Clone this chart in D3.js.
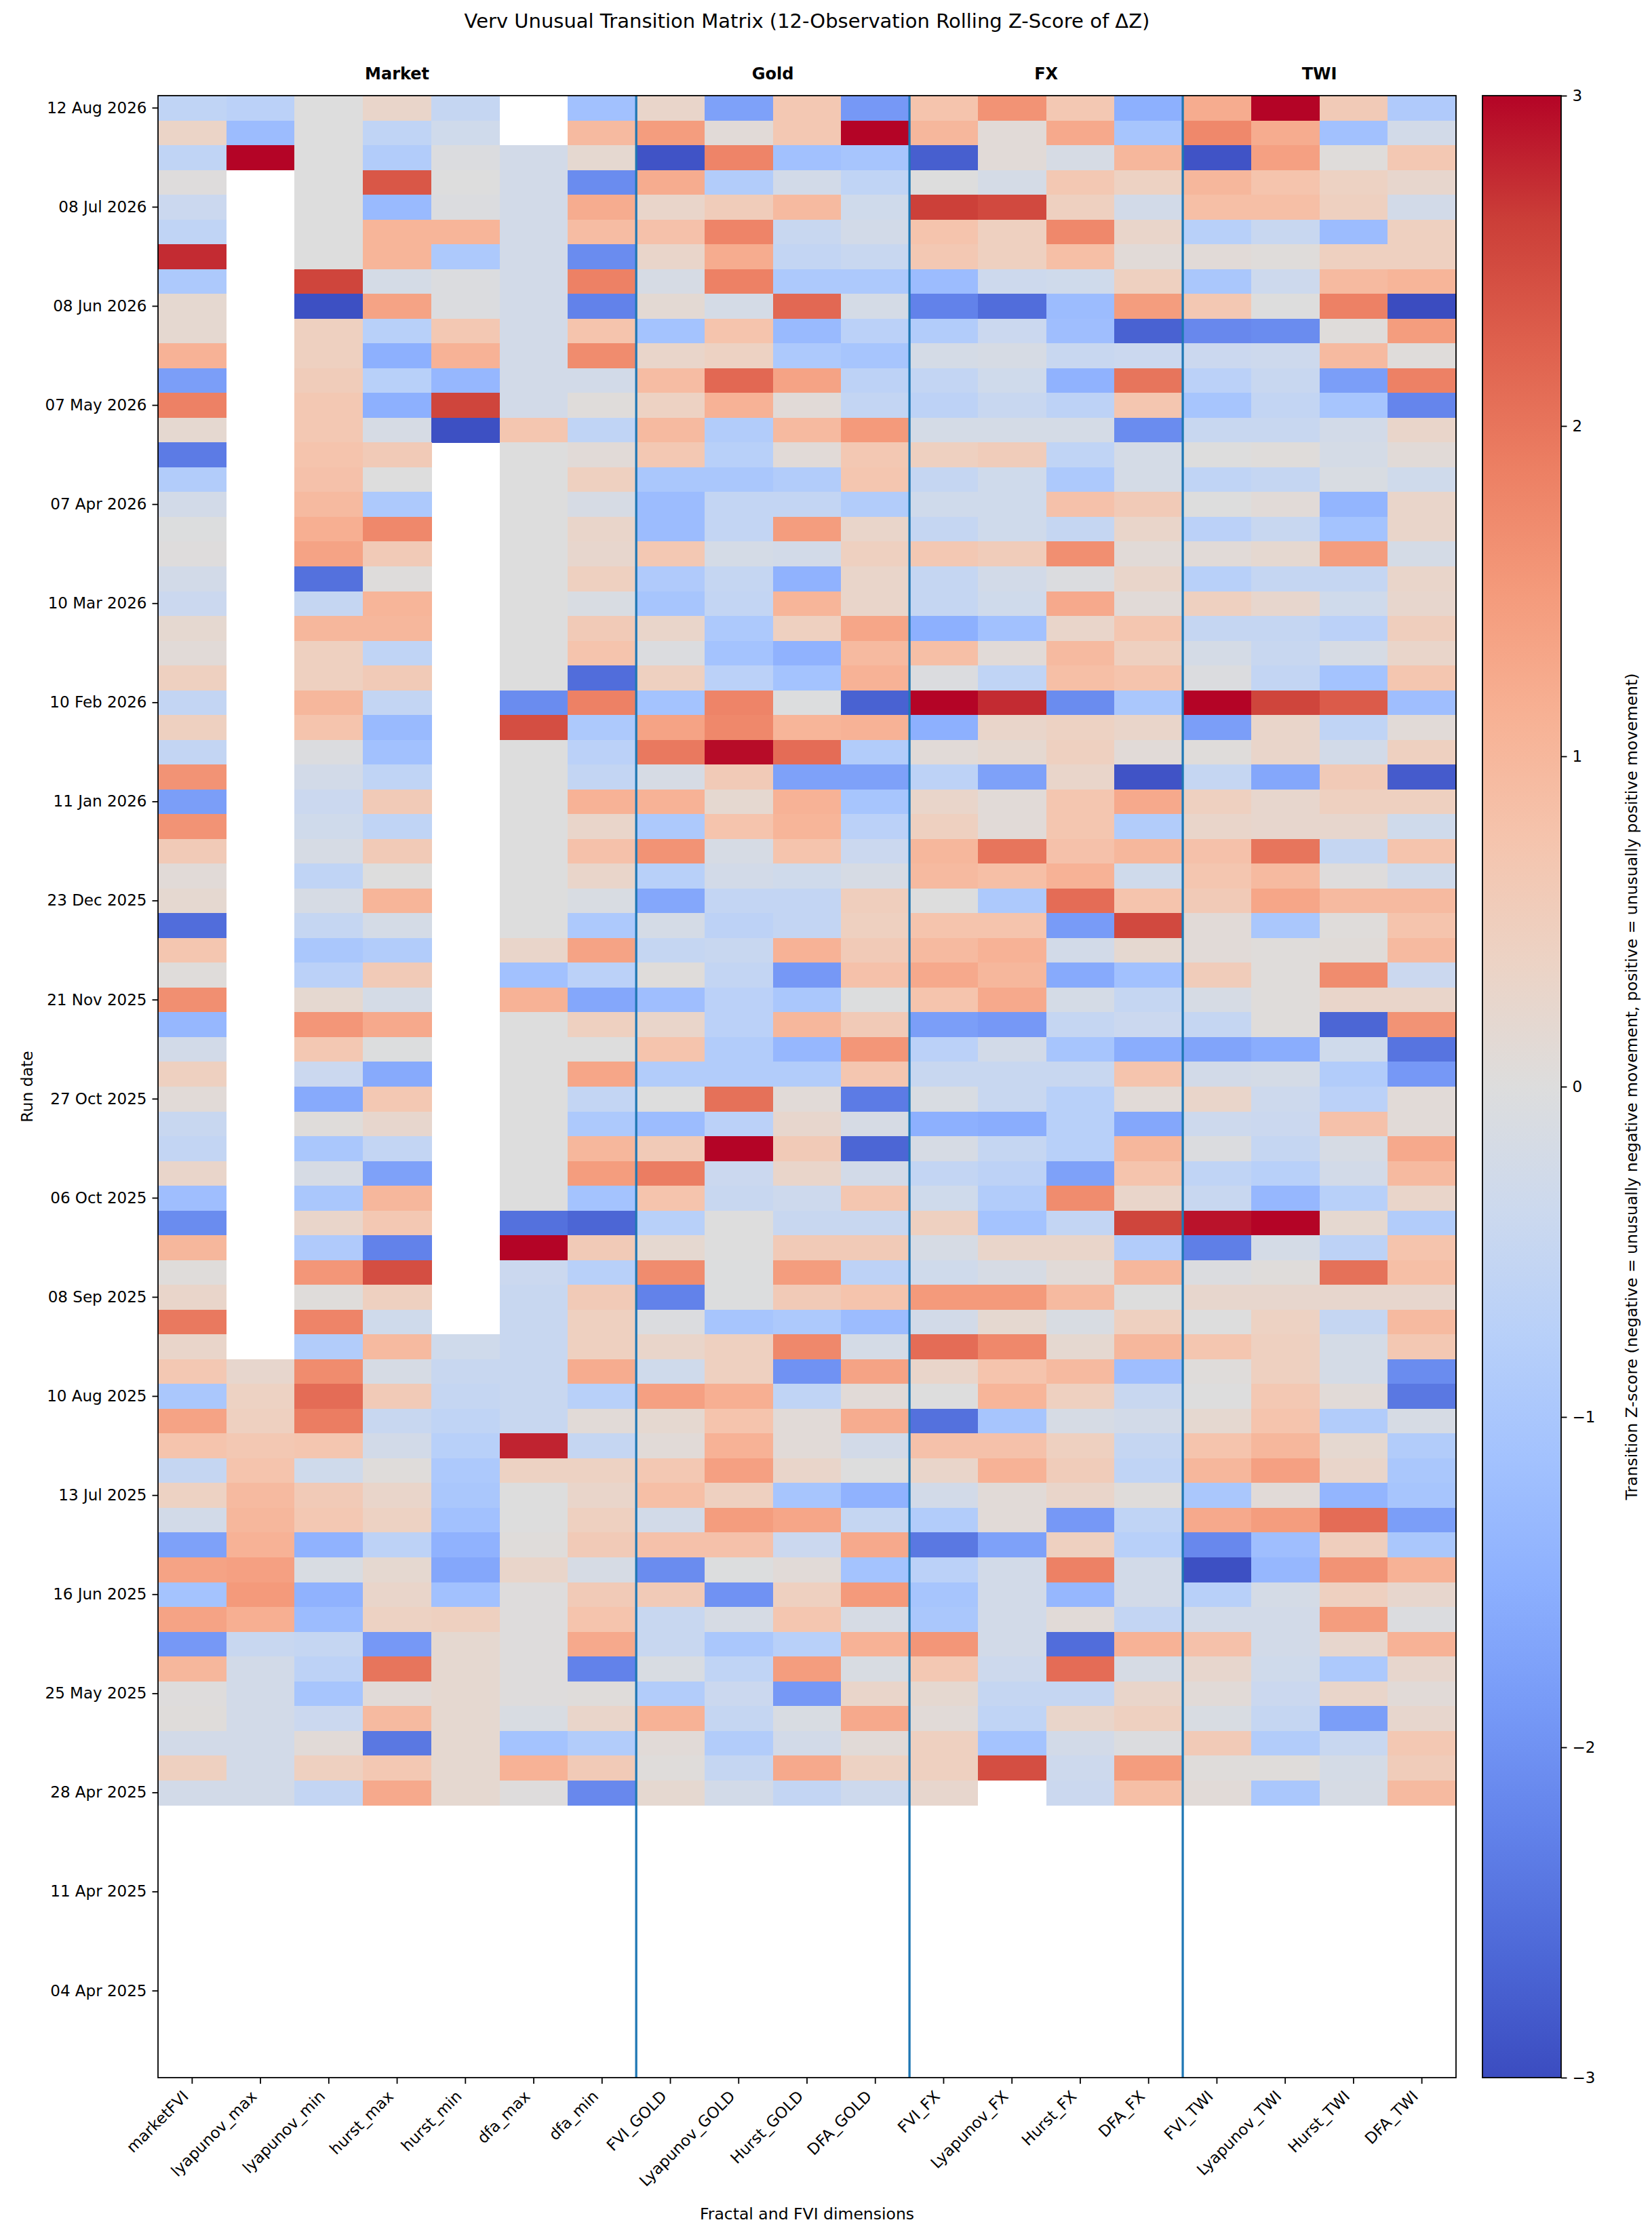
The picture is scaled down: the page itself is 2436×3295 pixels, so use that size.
<!DOCTYPE html>
<html>
<head>
<meta charset="utf-8">
<script src="https://cdn.jsdelivr.net/npm/d3@7"></script>
<style>
  body { margin: 0; background: #fff; }
  text { font-family: "DejaVu Sans", sans-serif; fill: #000; }
</style>
</head>
<body>
<div id="chart"></div>
<script>
// --- Data ---
const dimensions = [
  "marketFVI", "lyapunov_max", "lyapunov_min", "hurst_max", "hurst_min", "dfa_max", "dfa_min",
  "FVI_GOLD", "Lyapunov_GOLD", "Hurst_GOLD", "DFA_GOLD",
  "FVI_FX", "Lyapunov_FX", "Hurst_FX", "DFA_FX",
  "FVI_TWI", "Lyapunov_TWI", "Hurst_TWI", "DFA_TWI"
];
const groupNames = ["Market", "Gold", "FX", "TWI"];
const groupSizes = [7, 4, 4, 4];

// one label every 4 run dates, newest first
const dateTicks = [
  "12 Aug 2026", "08 Jul 2026", "08 Jun 2026", "07 May 2026", "07 Apr 2026",
  "10 Mar 2026", "10 Feb 2026", "11 Jan 2026", "23 Dec 2025", "21 Nov 2025",
  "27 Oct 2025", "06 Oct 2025", "08 Sep 2025", "10 Aug 2025", "13 Jul 2025",
  "16 Jun 2025", "25 May 2025", "28 Apr 2025", "11 Apr 2025", "04 Apr 2025"
];
const rowsPerTick = 4;

// z-scores per run date (newest first); null = no value. Older rows have no score yet.
const zRows = [
  [-0.6, -0.7, 0, 0.3, -0.5, null, -1.15, 0.3, -1.75, 0.65, -1.9, 0.75, 1.6, 0.65, -1.5, 1.2, 3, 0.6, -0.9],
  [0.35, -1.25, 0, -0.6, -0.3, null, 0.95, 1.45, 0.1, 0.65, 3, 1.0, 0.1, 1.25, -1.05, 1.75, 1.2, -1.15, -0.25],
  [-0.6, 3, 0, -0.85, -0.05, -0.25, 0.2, -2.9, 1.8, -1.15, -1.05, -2.75, 0.1, -0.15, 1.0, -2.9, 1.4, 0.05, 0.65],
  [0.02, null, 0, 2.35, 0, -0.25, -2.1, 1.2, -0.85, -0.25, -0.6, 0, -0.2, 0.65, 0.4, 1.0, 0.75, 0.4, 0.25],
  [-0.4, null, 0, -1.3, -0.05, -0.25, 1.2, 0.3, 0.55, 0.95, -0.3, 2.6, 2.5, 0.45, -0.25, 0.85, 0.85, 0.45, -0.25],
  [-0.6, null, 0, 1.05, 1.05, -0.25, 0.9, 0.8, 1.8, -0.45, -0.25, 0.75, 0.45, 1.75, 0.3, -0.75, -0.45, -1.25, 0.45],
  [2.75, null, 0, 1.05, -0.95, -0.25, -2.1, 0.3, 1.2, -0.55, -0.45, 0.65, 0.45, 0.85, 0.1, 0.1, 0.05, 0.45, 0.45],
  [-0.95, null, 2.55, -0.2, -0.05, -0.25, 1.85, -0.15, 1.85, -0.95, -0.95, -1.25, -0.35, -0.3, 0.45, -1.0, -0.35, 0.95, 1.05],
  [0.2, null, -2.95, 1.35, -0.05, -0.25, -2.25, 0.15, -0.2, 2.15, -0.2, -2.25, -2.55, -1.25, 1.45, 0.65, 0, 1.85, -3],
  [0.2, null, 0.45, -0.75, 0.65, -0.25, 0.75, -1.1, 0.75, -1.3, -0.7, -0.85, -0.4, -1.2, -2.7, -2.15, -2.1, 0.05, 1.45],
  [1.1, null, 0.45, -1.5, 1.1, -0.25, 1.7, 0.3, 0.4, -0.95, -1.05, -0.2, -0.15, -0.45, -0.4, -0.4, -0.35, 0.95, 0.05],
  [-1.8, null, 0.55, -0.75, -1.35, -0.25, -0.25, 0.9, 2.15, 1.35, -0.65, -0.55, -0.3, -1.45, 2.0, -0.7, -0.45, -1.8, 1.85],
  [1.85, null, 0.65, -1.5, 2.55, -0.25, 0.05, 0.4, 1.1, 0.1, -0.55, -0.65, -0.45, -0.65, 0.7, -1.05, -0.55, -1.05, -2.2],
  [0.2, null, 0.65, -0.15, -2.95, 0.7, -0.6, 0.95, -0.85, 0.95, 1.5, -0.2, -0.2, -0.2, -2.1, -0.45, -0.45, -0.25, 0.3],
  [-2.35, null, 0.75, 0.6, null, 0, 0.1, 0.65, -0.75, 0.1, 0.65, 0.45, 0.55, -0.6, -0.2, 0, 0.05, -0.2, 0.1],
  [-0.85, null, 0.8, 0, null, 0, 0.45, -1.0, -1.0, -0.85, 0.7, -0.5, -0.3, -0.95, -0.2, -0.6, -0.5, -0.1, -0.3],
  [-0.25, null, 0.95, -0.95, null, 0, -0.15, -1.25, -0.55, -0.55, -0.85, -0.3, -0.3, 0.8, 0.6, 0, 0.1, -1.4, 0.3],
  [-0.02, null, 1.15, 1.75, null, 0, 0.3, -1.25, -0.55, 1.45, 0.3, -0.5, -0.3, -0.5, 0.3, -0.7, -0.45, -1.1, 0.3],
  [0.02, null, 1.35, 0.6, null, 0, 0.25, 0.65, -0.2, -0.25, 0.45, 0.65, 0.55, 1.65, 0.1, 0.1, 0.2, 1.45, -0.2],
  [-0.25, null, -2.5, 0.03, null, 0, 0.45, -0.9, -0.5, -1.45, 0.3, -0.5, -0.25, -0.05, 0.3, -0.75, -0.5, -0.5, 0.3],
  [-0.4, null, -0.5, 1.05, null, 0, -0.1, -1.05, -0.55, 1.05, 0.3, -0.5, -0.3, 1.25, 0.1, 0.45, 0.25, -0.3, 0.25],
  [0.2, null, 1.0, 1.0, null, 0, 0.6, 0.3, -0.95, 0.45, 1.3, -1.5, -1.15, 0.3, 0.7, -0.5, -0.5, -0.7, 0.5],
  [0.1, null, 0.45, -0.6, null, 0, 0.75, -0.05, -1.1, -1.45, 0.95, 0.85, 0.1, 0.95, 0.45, -0.2, -0.45, -0.15, 0.3],
  [0.45, null, 0.45, 0.6, null, 0, -2.55, 0.45, -0.7, -1.1, 1.1, -0.05, -0.6, 0.85, 0.75, -0.05, -0.55, -1.1, 0.7],
  [-0.55, null, 1.0, -0.55, null, -2.1, 1.85, -1.1, 1.8, -0.03, -2.7, 3, 2.75, -2.1, -1.0, 3, 2.55, 2.3, -1.2],
  [0.45, null, 0.75, -1.3, null, 2.45, -0.95, 1.35, 1.75, 1.05, 1.1, -1.5, 0.3, 0.4, 0.3, -1.8, 0.3, -0.6, 0.1],
  [-0.55, null, -0.05, -1.15, null, 0, -0.7, 1.95, 2.95, 2.1, -0.85, 0.1, 0.2, 0.45, 0.1, 0.05, 0.3, -0.25, 0.45],
  [1.6, null, -0.25, -0.6, null, 0, -0.55, -0.15, 0.6, -1.75, -1.75, -0.65, -1.75, 0.3, -2.9, -0.5, -1.65, 0.6, -2.8],
  [-1.8, null, -0.4, 0.6, null, 0, 1.1, 1.1, 0.2, 1.1, -1.05, 0.3, 0.1, 0.7, 1.25, 0.45, 0.25, 0.45, 0.45],
  [1.6, null, -0.3, -0.6, null, 0, 0.3, -0.95, 0.75, 1.05, -0.7, 0.45, 0.1, 0.7, -0.85, 0.3, 0.25, 0.25, -0.3],
  [0.6, null, -0.15, 0.6, null, 0, 0.8, 1.6, -0.15, 0.75, -0.4, 1.0, 2.0, 0.8, 1.0, 0.8, 2.0, -0.5, 0.75],
  [0.1, null, -0.6, 0, null, 0, 0.3, -0.75, -0.25, -0.3, -0.15, 0.95, 0.85, 1.1, -0.3, 0.7, 0.95, 0.02, -0.3],
  [0.2, null, -0.15, 1.05, null, 0, -0.1, -1.65, -0.55, -0.55, 0.5, 0, -0.95, 2.1, 0.75, 0.6, 1.3, 0.95, 0.95],
  [-2.55, null, -0.5, -0.2, null, 0, -0.95, -0.2, -0.65, -0.55, 0.45, 0.75, 0.75, -1.85, 2.5, 0.1, -1.0, 0.05, 0.75],
  [0.7, null, -1.0, -0.85, null, 0.3, 1.35, -0.5, -0.45, 1.1, 0.6, 0.95, 1.1, -0.25, 0.2, 0.1, 0.05, 0.08, 0.95],
  [0.05, null, -0.7, 0.6, null, -1.15, -0.7, 0.05, -0.55, -1.9, 0.8, 1.25, 1.0, -1.6, -1.15, 0.55, 0.05, 1.7, -0.4],
  [1.65, null, 0.2, -0.2, null, 1.1, -1.65, -1.2, -0.7, -1.0, -0.03, 0.75, 1.25, -0.2, -0.5, -0.15, 0.05, 0.3, 0.3],
  [-1.35, null, 1.55, 1.25, null, 0, 0.45, 0.3, -0.7, 1.0, 0.6, -1.8, -1.9, -0.5, -0.4, -0.5, 0.05, -2.65, 1.6],
  [-0.25, null, 0.65, -0.03, null, 0, 0, 0.75, -0.85, -1.35, 1.55, -0.7, -0.25, -1.05, -1.55, -1.7, -1.55, -0.3, -2.45],
  [0.45, null, -0.4, -1.6, null, 0, 1.3, -0.85, -0.85, -0.85, 0.7, -0.45, -0.45, -0.45, 0.75, -0.25, -0.2, -0.85, -1.9],
  [0.1, null, -1.6, 0.65, null, 0, -0.55, 0, 2.05, 0.1, -2.35, -0.1, -0.45, -0.75, 0.1, 0.3, -0.35, -0.7, 0.1],
  [-0.45, null, 0.05, 0.25, null, 0, -0.95, -1.25, -0.7, 0.25, -0.15, -1.5, -1.55, -0.75, -1.65, -0.35, -0.4, 0.8, 0.1],
  [-0.55, null, -1.0, -0.55, null, 0, 1.0, 0.6, 3, 0.6, -2.65, -0.15, -0.5, -0.75, 1.0, -0.05, -0.5, -0.15, 1.25],
  [0.3, null, -0.15, -1.75, null, 0, 1.45, 1.9, -0.4, 0.3, -0.25, -0.55, -0.65, -1.75, 0.75, -0.6, -0.75, -0.25, 0.95],
  [-1.2, null, -1.0, 1.0, null, 0, -1.1, 0.75, -0.45, -0.35, 0.7, -0.3, -0.85, 1.7, 0.3, -0.45, -1.35, -0.75, 0.3],
  [-2.1, null, 0.3, 0.65, null, -2.5, -2.65, -0.75, 0, -0.45, -0.45, 0.45, -1.1, -0.55, 2.55, 2.9, 3, 0.2, -0.85],
  [1.0, null, -0.9, -2.25, null, 3, 0.6, 0.2, 0, 0.6, 0.6, -0.15, 0.3, 0.3, -0.85, -2.3, -0.2, -0.65, 0.75],
  [0.05, null, 1.55, 2.45, null, -0.4, -0.75, 1.7, -0.03, 1.45, -0.65, -0.3, -0.15, 0.1, 1.0, -0.05, 0.05, 2.05, 0.85],
  [0.3, null, 0.05, 0.45, null, -0.45, 0.6, -2.25, -0.03, 0.6, 0.75, 1.5, 1.5, 0.95, 0, 0.25, 0.25, 0.25, 0.25],
  [1.95, null, 1.8, -0.3, null, -0.45, 0.45, -0.05, -1.05, -0.95, -1.25, -0.25, 0.2, -0.1, 0.45, 0, 0.4, -0.5, 0.95],
  [0.3, null, -0.85, 0.95, -0.3, -0.45, 0.45, 0.3, 0.45, 1.75, -0.2, 2.1, 1.75, 0.2, 1.0, 0.7, 0.45, -0.2, 0.65],
  [0.65, 0.25, 1.7, -0.15, -0.45, -0.45, 1.2, -0.3, 0.45, -2.0, 1.35, 0.3, 0.75, 0.95, -1.2, 0.05, 0.45, -0.2, -2.1],
  [-1.0, 0.4, 2.1, 0.6, -0.5, -0.45, -0.75, 1.4, 1.15, -0.6, 0.1, 0, 1.05, 0.45, -0.45, 0, 0.65, 0.1, -2.4],
  [1.35, 0.45, 1.9, -0.45, -0.6, -0.45, 0.1, 0.2, 0.75, 0.1, 1.2, -2.5, -1.05, -0.15, -0.25, 0.2, 0.75, -0.85, -0.15],
  [0.75, 0.65, 0.7, -0.25, -0.75, 2.8, -0.5, 0.1, 1.1, 0.1, -0.25, 0.8, 0.8, 0.45, -0.5, 0.75, 1.0, 0.2, -0.85],
  [-0.5, 0.75, -0.3, 0.05, -0.95, 0.4, 0.4, 0.65, 1.4, 0.3, 0, 0.3, 1.1, 0.55, -0.6, 1.0, 1.4, 0.3, -1.0],
  [0.4, 0.95, 0.6, 0.3, -1.0, 0, 0.3, 0.85, 0.45, -1.05, -1.45, -0.25, 0.1, 0.3, 0.05, -1.0, 0.1, -1.4, -1.05],
  [-0.25, 1.0, 0.65, 0.4, -1.15, 0, 0.45, -0.25, 1.45, 1.3, -0.5, -0.85, 0.1, -1.9, -0.6, 1.25, 1.45, 2.1, -1.8],
  [-1.75, 1.1, -1.45, -0.65, -1.45, 0.05, 0.6, 0.8, 0.8, -0.4, 1.25, -2.4, -1.75, 0.45, -0.75, -2.15, -1.2, 0.5, -1.0],
  [1.35, 1.4, -0.1, 0.2, -1.65, 0.3, -0.15, -2.1, -0.03, 0.1, -1.1, -0.7, -0.25, 1.85, -0.25, -2.95, -1.35, 1.6, 1.1],
  [-1.1, 1.5, -1.45, 0.3, -1.15, 0.02, 0.6, 0.6, -2.0, 0.45, 1.5, -1.05, -0.25, -1.35, -0.25, -0.75, -0.2, 0.45, 0.25],
  [1.35, 1.15, -1.25, 0.4, 0.45, 0.02, 0.75, -0.45, -0.15, 0.7, -0.15, -1.0, -0.25, 0.1, -0.55, -0.25, -0.25, 1.45, -0.05],
  [-1.9, -0.45, -0.5, -1.9, 0.2, 0.02, 1.25, -0.45, -1.0, -0.75, 1.1, 1.55, -0.25, -2.55, 1.1, 0.8, -0.25, 0.25, 1.1],
  [1.0, -0.25, -0.65, 2.0, 0.2, 0.02, -2.25, -0.1, -0.6, 1.45, -0.1, 0.65, -0.35, 2.1, -0.15, 0.25, -0.3, -0.95, 0.25],
  [0.02, -0.25, -1.05, 0.1, 0.2, 0.02, 0.05, -0.85, -0.4, -1.9, 0.3, 0.2, -0.5, -0.5, 0.3, 0.1, -0.4, 0.3, 0.1],
  [0.05, -0.25, -0.4, 0.95, 0.2, -0.1, 0.3, 1.1, -0.5, -0.1, 1.25, 0.1, -0.6, 0.3, 0.45, -0.1, -0.5, -1.8, 0.25],
  [-0.25, -0.25, 0.1, -2.4, 0.2, -1.1, -0.85, 0.1, -0.85, -0.25, 0.1, 0.45, -1.1, -0.25, -0.05, 0.6, -0.85, -0.45, 0.65],
  [0.45, -0.25, 0.45, 0.65, 0.2, 1.1, 0.6, 0.05, -0.5, 1.25, 0.4, 0.45, 2.45, -0.35, 1.45, 0.05, 0.05, -0.2, 0.55],
  [-0.25, -0.25, -0.55, 1.25, 0.2, 0.02, -2.15, 0.2, -0.25, -0.55, -0.35, 0.25, null, -0.4, 0.85, 0.1, -1.0, -0.15, 0.95]
];

// --- coolwarm colormap (matplotlib), sampled ---
const cwStops = [0, 0.0625, 0.125, 0.1875, 0.25, 0.3125, 0.375, 0.4375, 0.5,
                 0.5625, 0.625, 0.6875, 0.75, 0.8125, 0.875, 0.9375, 1];
const cwColors = ["#3b4cc0", "#4d68d7", "#6282ea", "#779af7", "#8db0fe", "#a3c2fe", "#b8d0f9", "#ccd9ee", "#dddddd",
                  "#ecd3c5", "#f5c4ad", "#f7b194", "#f49a7b", "#ec7f63", "#de604d", "#cb3e38", "#b40426"];
const vmin = -3, vmax = 3;

const color = d3.scaleLinear()
    .domain(cwStops.map(t => vmin + t * (vmax - vmin)))
    .range(cwColors)
    .interpolate(d3.interpolateRgb)
    .clamp(true);

// --- Layout ---
const W = 2436, H = 3295;
const margin = { top: 141, left: 233 };
const width = 1914, height = 2922;
const cbar = { x: 2186, w: 116 };

const svg = d3.select("#chart").append("svg")
    .attr("width", W)
    .attr("height", H)
    .style("display", "block");

svg.append("rect").attr("width", W).attr("height", H).attr("fill", "#fff");

const g = svg.append("g").attr("transform", `translate(${margin.left},${margin.top})`);

const nRows = dateTicks.length * rowsPerTick;

const x = d3.scaleBand().domain(dimensions).range([0, width]).padding(0);
const y = d3.scaleBand().domain(d3.range(nRows)).range([0, height]).padding(0);

// cells
const cells = [];
zRows.forEach((row, r) => {
    row.forEach((v, c) => {
        if (v !== null) cells.push({ row: r, dim: dimensions[c], value: v });
    });
});

g.append("g")
    .selectAll("rect")
    .data(cells)
    .enter().append("rect")
    .attr("x", d => x(d.dim))
    .attr("y", d => y(d.row))
    .attr("width", x.bandwidth() + 0.6)
    .attr("height", y.bandwidth() + 0.6)
    .attr("fill", d => color(d.value))
    .attr("shape-rendering", "crispEdges");

// group separators and headers
let start = 0;
groupNames.forEach((name, i) => {
    const x0 = x(dimensions[start]);
    const x1 = x(dimensions[start + groupSizes[i] - 1]) + x.bandwidth();
    if (i > 0) {
        g.append("line")
            .attr("x1", x0).attr("x2", x0)
            .attr("y1", 0).attr("y2", height)
            .attr("stroke", "#1f77b4")
            .attr("stroke-width", 3.3);
    }
    g.append("text")
        .attr("x", (x0 + x1) / 2)
        .attr("y", 117 - margin.top)
        .attr("text-anchor", "middle")
        .attr("font-size", "24px")
        .attr("font-weight", "bold")
        .text(name);
    start += groupSizes[i];
});

// frame
g.append("rect")
    .attr("width", width).attr("height", height)
    .attr("fill", "none")
    .attr("stroke", "#000")
    .attr("stroke-width", 1.8);

// axes
const xAxis = g.append("g")
    .attr("transform", `translate(0,${height})`)
    .call(d3.axisBottom(x).tickSize(9).tickSizeOuter(0));
xAxis.select(".domain").remove();
xAxis.selectAll(".tick line").attr("stroke", "#000").attr("stroke-width", 1.8);
xAxis.selectAll(".tick text")
    .attr("x", 0).attr("y", 0).attr("dy", 0)
    .attr("transform", "translate(-4,29) rotate(-45)")
    .attr("text-anchor", "end")
    .attr("font-size", "23px")
    .attr("font-family", "DejaVu Sans")
    .attr("fill", "#000");

const yAxis = g.append("g")
    .call(d3.axisLeft(y)
        .tickValues(d3.range(0, nRows, rowsPerTick))
        .tickFormat(r => dateTicks[r / rowsPerTick])
        .tickSize(8.5).tickPadding(8).tickSizeOuter(0));
yAxis.select(".domain").remove();
yAxis.selectAll(".tick line").attr("stroke", "#000").attr("stroke-width", 1.8);
yAxis.selectAll(".tick text")
    .attr("font-size", "23px")
    .attr("font-family", "DejaVu Sans")
    .attr("fill", "#000");

// axis labels and title
svg.append("text")
    .attr("x", margin.left + width / 2)
    .attr("y", 41)
    .attr("text-anchor", "middle")
    .attr("font-size", "29px")
    .text("Verv Unusual Transition Matrix (12-Observation Rolling Z-Score of ΔZ)");

svg.append("text")
    .attr("x", margin.left + width / 2)
    .attr("y", 3272)
    .attr("text-anchor", "middle")
    .attr("font-size", "23.5px")
    .text("Fractal and FVI dimensions");

svg.append("text")
    .attr("transform", `translate(48,${margin.top + height / 2}) rotate(-90)`)
    .attr("text-anchor", "middle")
    .attr("font-size", "23.5px")
    .text("Run date");

// --- Colorbar ---
const defs = svg.append("defs");
const grad = defs.append("linearGradient")
    .attr("id", "cw")
    .attr("x1", 0).attr("y1", 1).attr("x2", 0).attr("y2", 0);
grad.selectAll("stop")
    .data(cwStops)
    .enter().append("stop")
    .attr("offset", d => d)
    .attr("stop-color", (d, i) => cwColors[i]);

const cb = svg.append("g").attr("transform", `translate(${cbar.x},${margin.top})`);
cb.append("rect")
    .attr("width", cbar.w).attr("height", height)
    .attr("fill", "url(#cw)")
    .attr("stroke", "#000")
    .attr("stroke-width", 1.8);

const cbScale = d3.scaleLinear().domain([vmin, vmax]).range([height, 0]);
const cbAxis = cb.append("g")
    .attr("transform", `translate(${cbar.w},0)`)
    .call(d3.axisRight(cbScale)
        .tickValues(d3.range(vmin, vmax + 1))
        .tickFormat(d3.format("d"))
        .tickSize(8.5).tickPadding(8).tickSizeOuter(0));
cbAxis.select(".domain").remove();
cbAxis.selectAll(".tick line").attr("stroke", "#000").attr("stroke-width", 1.8);
cbAxis.selectAll(".tick text")
    .attr("font-size", "23px")
    .attr("font-family", "DejaVu Sans")
    .attr("fill", "#000");

svg.append("text")
    .attr("transform", `translate(2414,${margin.top + height / 2}) rotate(-90)`)
    .attr("text-anchor", "middle")
    .attr("font-size", "23.5px")
    .text("Transition Z-score (negative = unusually negative movement, positive = unusually positive movement)");
</script>
</body>
</html>
